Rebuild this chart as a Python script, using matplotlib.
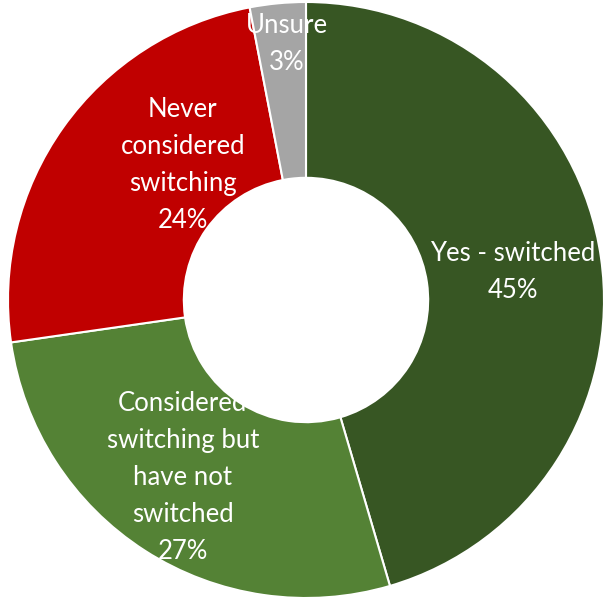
import matplotlib.pyplot as plt

labels = ["Yes - switched", "Considered\nswitching but\nhave not\nswitched",
          "Never\nconsidered\nswitching", "Unsure"]
values = [45, 27, 24, 3]
colors = ["#375623", "#548235", "#C00000", "#A5A5A5"]

# text anchor points, in units of the outer radius
label_pos = [(0.695, 0.094), (-0.413, -0.597), (-0.413, 0.453), (-0.064, 0.86)]

plt.rcParams['font.family'] = ['Lato', 'DejaVu Sans']

fig = plt.figure(figsize=(6.03, 5.98), dpi=100)
ax = fig.add_axes([0, 0, 1, 1])

wedges, _ = ax.pie(values, colors=colors, startangle=90, counterclock=False,
                   radius=1.0, wedgeprops=dict(width=0.59, edgecolor="white", linewidth=1.5))

for lab, val, (x, y) in zip(labels, values, label_pos):
    ax.text(x, y, f"{lab}\n{val}%", ha="center", va="center", color="white",
            fontsize=18.5, linespacing=1.6)

ax.set_xlim(-306 / 298, 297 / 298)
ax.set_ylim(-298 / 298, 300 / 298)
ax.set_aspect("equal")
ax.axis("off")

fig.savefig("out.png", dpi=100)
